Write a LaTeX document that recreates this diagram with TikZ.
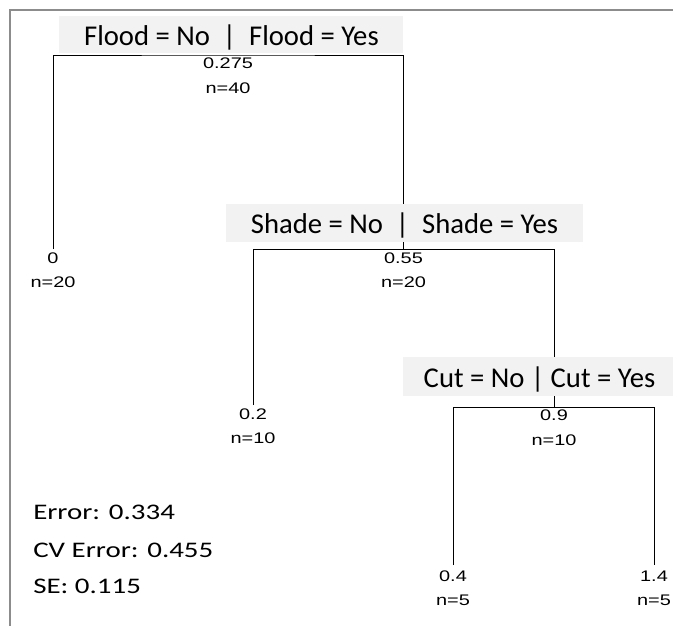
\documentclass[tikz,border=0pt]{standalone}
\usepackage{fontspec}
\usepackage{graphicx}
\setmainfont{Carlito}
\newfontfamily\arialfont{Liberation Sans}
\definecolor{boxgray}{RGB}{242,242,242}
\definecolor{framegray}{RGB}{140,140,140}
\newcommand{\hs}[1]{\scalebox{1.3}[1]{#1}}
\begin{document}
\begin{tikzpicture}[x=0.75pt,y=-0.75pt,
  tree/.style={draw=black,line width=0.75pt},
  frame/.style={draw=framegray,line width=1.4pt},
  lblbox/.style={fill=boxgray,draw=none},
  lbl/.style={font=\fontsize{21.5}{25}\selectfont,inner sep=0pt,anchor=base},
  num/.style={font=\arialfont\fontsize{11.5}{13}\selectfont,inner sep=0pt,anchor=base},
  stat/.style={font=\fontsize{16.7}{20}\selectfont,inner sep=0pt,anchor=base west}]
\useasboundingbox (0,0) rectangle (673,626);
\fill[white] (0,0) rectangle (673,626);
% frame
\coordinate (fa) at (673,10);
\coordinate (fb) at (10,10);
\coordinate (fc) at (10,626);
\draw[frame] (fa) -- (fb) -- (fc);
% tree node points
\coordinate (root) at (228,55);
\coordinate (leafA) at (53,249);
\coordinate (shade) at (403.5,249);
\coordinate (leafB) at (253,405);
\coordinate (cut) at (554,407);
\coordinate (leafC) at (453,565);
\coordinate (leafD) at (654,565);
\draw[tree] (leafA) |- (root) -| (shade);
\draw[tree] (leafB) |- (shade) -| (cut);
\draw[tree] (leafC) |- (cut) -| (leafD);
% node texts
\node[num] (rootv) at (228,68) {\hs{0.275}};
\node[num] (rootn) at (228,93) {\hs{n=40}};
\node[num] (leafAv) at (53,263) {\hs{0}};
\node[num] (leafAn) at (53,287) {\hs{n=20}};
\node[num] (shadev) at (403.5,263) {\hs{0.55}};
\node[num] (shaden) at (403.5,287) {\hs{n=20}};
\node[num] (leafBv) at (253,419) {\hs{0.2}};
\node[num] (leafBn) at (253,443) {\hs{n=10}};
\node[num] (cutv) at (554,420) {\hs{0.9}};
\node[num] (cutn) at (554,445) {\hs{n=10}};
\node[num] (leafCv) at (453,581) {\hs{0.4}};
\node[num] (leafCn) at (453,605) {\hs{n=5}};
\node[num] (leafDv) at (654,581) {\hs{1.4}};
\node[num] (leafDn) at (654,605) {\hs{n=5}};
% split label boxes
\fill[lblbox] (59,16) rectangle (403,53);
\fill[lblbox] (226,204) rectangle (583,242);
\fill[lblbox] (403,357) rectangle (673,396);
\node[lbl] (floodlbl) at (231.5,45) {Flood = No~~|~~Flood = Yes};
\node[lbl] (shadelbl) at (404.5,233) {Shade = No~~|~~Shade = Yes};
\node[lbl] (cutlbl) at (539.5,387) {Cut = No | Cut = Yes};
% statistics
\node[stat] (err) at (33,519) {\hs{Error: 0.334}};
\node[stat] (cverr) at (33,557) {\hs{CV Error: 0.455}};
\node[stat] (se) at (33,593) {\hs{SE: 0.115}};
\end{tikzpicture}
\end{document}
